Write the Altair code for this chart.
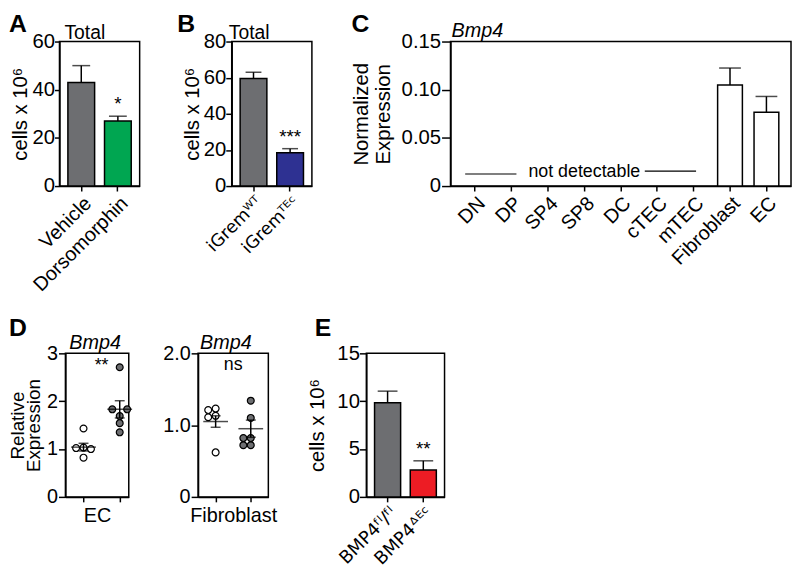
import altair as alt
import pandas as pd

FONT = "Liberation Sans, Arial, sans-serif"
SUPFONT = "DejaVu Sans"

# ---------------- data ----------------
a_groups = ["Vehicle", "Dorsomorphin"]
a_means = [43.0, 27.0]
a_sems = [7.0, 2.0]
a_colors = ["#6d6e71", "#00a651"]
a_sig = ["", "*"]

b_groups = ["iGremᵂᵀ", "iGremᵀᴱᶜ"]
b_means = [59.5, 18.5]
b_sems = [3.5, 2.2]
b_colors = ["#6d6e71", "#2e3192"]
b_sig = ["", "***"]

c_cells = ["DN", "DP", "SP4", "SP8", "DC", "cTEC", "mTEC", "Fibroblast", "EC"]
c_means = [None, None, None, None, None, None, None, 0.105, 0.0765]
c_sems = [None, None, None, None, None, None, None, 0.0175, 0.0165]

d_ec_ctrl = [1.43, 1.03, 1.02, 1.0, 0.82]
d_ec_ko = [2.71, 1.69, 1.83, 1.83, 1.54, 1.35]
d_ec_mean = [1.04, 1.83]
d_ec_sem = [0.08, 0.18]

d_fb_ctrl = [1.23, 1.21, 1.13, 1.11, 0.62]
d_fb_ko = [1.34, 1.10, 0.82, 0.82, 0.72, 0.72]
d_fb_mean = [1.05, 0.95]
d_fb_sem = [0.08, 0.12]

e_groups = ["BMP4ᶠˡ/ᶠˡ", "BMP4ᐞᴱᶜ"]
e_means = [9.85, 2.8]
e_sems = [1.2, 0.97]
e_colors = ["#6d6e71", "#ed1c24"]
e_sig = ["", "**"]


def label(text, dx, dy, size=25, weight="bold", style="normal", baseline="alphabetic"):
    return alt.Chart(pd.DataFrame({"t": [text]})).mark_text(
        align="left", baseline=baseline, font=FONT, fontSize=size,
        fontWeight=weight, fontStyle=style, color="black"
    ).encode(text="t:N", x=alt.value(dx), y=alt.value(dy))


def letter_mark(text, dx, dy):
    return label(text, dx, dy, size=25, weight="bold", baseline="top")


def bar_panel(groups, means, sems, colors, sig, ymax, yticks, width, height,
              cap, ytitle, tpad, tick, letter, letter_dx, letter_dy,
              title=None, title_dx=0, title_dy=-3, xfont=FONT, xsize=20):
    df = pd.DataFrame({"g": groups, "m": means, "s": sems, "c": colors, "sig": sig})
    df["top"] = df["m"] + df["s"]
    xenc = alt.X("g:N", sort=groups, scale=alt.Scale(paddingInner=0.27, paddingOuter=0.23),
                 axis=alt.Axis(title=None, labelAngle=-45, labelFontSize=xsize,
                               labelFont=xfont, tickSize=5))
    yscale = alt.Scale(domain=[0, ymax], nice=False)
    yaxis = alt.Axis(values=yticks, title=ytitle, titlePadding=tpad, tickSize=tick,
                     labelPadding=0, labelFontSize=20.5, titleFontSize=20.5)
    base = alt.Chart(df)
    bars = base.mark_bar(stroke="black", strokeWidth=1.5).encode(
        x=xenc, y=alt.Y("m:Q", scale=yscale, axis=yaxis),
        fill=alt.Color("c:N", scale=None))
    rule = base.mark_rule(color="black", strokeWidth=1.5).encode(
        x=xenc, y=alt.Y("m:Q", scale=yscale, axis=yaxis), y2="top:Q")
    capm = base.mark_tick(color="black", thickness=1.5, size=cap, orient="horizontal").encode(
        x=xenc, y=alt.Y("top:Q", scale=yscale, axis=yaxis))
    sigt = base.mark_text(baseline="bottom", dy=-2, font=FONT, fontSize=19, color="black").encode(
        x=xenc, y=alt.Y("top:Q", scale=yscale, axis=yaxis), text="sig:N")
    layers = [bars, rule, capm, sigt, letter_mark(letter, letter_dx, letter_dy)]
    if title:
        layers.append(label(title, title_dx, title_dy, size=19.5, weight="normal"))
    return alt.layer(*layers).properties(width=width, height=height)


def swarm(values, ppu_y, ppu_x, diam=7.5):
    placed, offs = [], []
    for v in values:
        xo = 0.0
        for k in [0, -1, 1, -2, 2, -3, 3]:
            xo = k * diam
            if all((xo - px) ** 2 + ((v - pv) * ppu_y) ** 2 >= (diam * 0.95) ** 2 for px, pv in placed):
                break
        placed.append((xo, v))
        offs.append(xo / ppu_x)
    return offs


def dot_panel(ctrl, ko, means, sems, xdom, ymax, yticks, width, height, xtitle,
              sig, sig_y, ytitle=None, letter=None, letter_dx=0, letter_dy=0,
              title_dx=2):
    ppu_y = height / ymax
    ppu_x = width / (xdom[1] - xdom[0])
    rows = []
    for gi, vals in enumerate([ctrl, ko]):
        for v, o in zip(vals, swarm(vals, ppu_y, ppu_x)):
            rows.append({"x": gi + o, "y": v, "k": "open" if gi == 0 else "filled"})
    pts = pd.DataFrame(rows)
    ms = pd.DataFrame({"x": [0, 1], "m": means, "s": sems})
    ms["lo"] = ms["m"] - ms["s"]
    ms["hi"] = ms["m"] + ms["s"]
    xscale = alt.Scale(domain=xdom, nice=False, zero=False)
    xaxis = alt.Axis(values=[0, 1], labels=False, title=xtitle, titlePadding=3,
                     tickSize=5, titleFontSize=20)
    yscale = alt.Scale(domain=[0, ymax], nice=False)
    yexpr = "datum.value == 0 ? '0' : " + ("format(datum.value, '.1f')" if ymax < 3 else "format(datum.value, 'd')")
    yaxis = alt.Axis(values=yticks, labelExpr=yexpr, labelFontSize=20, tickSize=7,
                     labelPadding=1, title=ytitle if ytitle else None,
                     titlePadding=3, titleFontSize=19, titleLineHeight=16)
    X = alt.X("x:Q", scale=xscale, axis=xaxis)
    points = alt.Chart(pts).mark_point(filled=True, shape="circle", size=48, stroke="black",
                                        strokeWidth=1.2, opacity=1).encode(
        x=X, y=alt.Y("y:Q", scale=yscale, axis=yaxis),
        fill=alt.Fill("k:N", scale=alt.Scale(domain=["open", "filled"], range=["white", "#6d6e71"]),
                      legend=None))
    mb = alt.Chart(ms)
    rule = mb.mark_rule(color="black", strokeWidth=1.5).encode(
        x=X, y=alt.Y("lo:Q", scale=yscale, axis=yaxis), y2="hi:Q")
    caphi = mb.mark_tick(color="black", thickness=1.5, size=10, orient="horizontal").encode(
        x=X, y=alt.Y("hi:Q", scale=yscale, axis=yaxis))
    caplo = mb.mark_tick(color="black", thickness=1.5, size=10, orient="horizontal").encode(
        x=X, y=alt.Y("lo:Q", scale=yscale, axis=yaxis))
    meanl = mb.mark_tick(color="black", thickness=1.5, size=25, orient="horizontal").encode(
        x=X, y=alt.Y("m:Q", scale=yscale, axis=yaxis))
    sigt = alt.Chart(pd.DataFrame({"t": [sig]})).mark_text(
        font=FONT, fontSize=18, color="black", baseline="alphabetic").encode(
        x=alt.datum(0.5), y=alt.datum(sig_y), text="t:N")
    layers = [points, rule, caphi, caplo, meanl, sigt,
              label("Bmp4", title_dx, -4, size=20, weight="normal", style="italic")]
    if letter:
        layers.append(letter_mark(letter, letter_dx, letter_dy))
    return alt.layer(*layers).properties(width=width, height=height)


def spacer(w, h):
    return alt.Chart(pd.DataFrame({"v": [0]})).mark_point(opacity=0).encode(
        x=alt.value(0), y=alt.value(0)).properties(
        width=w, height=h, view=alt.ViewBackground(stroke=None))


# ---------------- panels ----------------
H1 = 146
H2 = 145

panel_a = bar_panel(a_groups, a_means, a_sems, a_colors, a_sig, 60, [0, 20, 40, 60],
                    81, H1, 18, "cells x 10⁶", 1, 5, "A", -51, -30, "Total", 5, -3)
panel_b = bar_panel(b_groups, b_means, b_sems, b_colors, b_sig, 80, [0, 20, 40, 60, 80],
                    81, H1, 16, "cells x 10⁶", 1, 6, "B", -55, -30, "Total", -3, -3,
                    xfont=SUPFONT, xsize=17.5)

# panel C
c_df = pd.DataFrame({"g": c_cells, "m": c_means, "s": c_sems})
c_df["top"] = c_df["m"] + c_df["s"]
c_x = alt.X("g:N", sort=c_cells,
            scale=alt.Scale(domain=c_cells, paddingInner=0.32, paddingOuter=0.335),
            axis=alt.Axis(title=None, labelAngle=-45, labelFontSize=20, tickSize=5))
c_ys = alt.Scale(domain=[0, 0.15], nice=False)
c_ya = alt.Axis(values=[0, 0.05, 0.10, 0.15],
                labelExpr="datum.value == 0 ? '0' : format(datum.value, '.2f')",
                labelFontSize=20.5, tickSize=9, labelPadding=1,
                title=["Normalized", "Expression"], titleFontSize=20.5,
                titlePadding=8, titleLineHeight=22)
cb = alt.Chart(c_df)
c_bars = cb.mark_bar(fill="white", stroke="black", strokeWidth=1.5).encode(
    x=c_x, y=alt.Y("m:Q", scale=c_ys, axis=c_ya))
c_rule = cb.mark_rule(color="black", strokeWidth=1.5).encode(
    x=c_x, y=alt.Y("m:Q", scale=c_ys, axis=c_ya), y2="top:Q")
c_cap = cb.mark_tick(color="black", thickness=1.5, size=22, orient="horizontal").encode(
    x=c_x, y=alt.Y("top:Q", scale=c_ys, axis=c_ya))
nd = pd.DataFrame({"t": ["not detectable"]})
c_text = alt.Chart(nd).mark_text(font=FONT, fontSize=18, color="black", baseline="middle").encode(
    x=alt.X(datum="SP8", scale=alt.Scale(domain=c_cells)), y=alt.datum(0.0145), text="t:N")
c_line1 = alt.Chart(nd).mark_rule(color="black", strokeWidth=1.2).encode(
    x=alt.X(datum="DN", bandPosition=0.1), x2=alt.X2(datum="DP", bandPosition=0.7), y=alt.datum(0.0125))
c_line2 = alt.Chart(nd).mark_rule(color="black", strokeWidth=1.2).encode(
    x=alt.X(datum="cTEC", bandPosition=0.0), x2=alt.X2(datum="mTEC", bandPosition=0.6), y=alt.datum(0.0155))
panel_c = alt.layer(c_bars, c_rule, c_cap, c_text, c_line1, c_line2,
                    letter_mark("C", -100, -30),
                    label("Bmp4", 1, -5, size=20, weight="normal", style="italic")
                    ).properties(width=344, height=H1)

panel_d1 = dot_panel(d_ec_ctrl, d_ec_ko, d_ec_mean, d_ec_sem, [-0.5, 1.25], 3, [0, 1, 2, 3],
                     64, H2, "EC", "**", 2.64,
                     ["Relative", "Expression"], "D", -57, -38, 4)
panel_d2 = dot_panel(d_fb_ctrl, d_fb_ko, d_fb_mean, d_fb_sem, [-0.5, 1.5], 2,
                     [0, 0.5, 1.0, 1.5, 2.0], 71, H2, "Fibroblast", "ns", 1.765,
                     title_dx=2)

panel_e = bar_panel(e_groups, e_means, e_sems, e_colors, e_sig, 15, [0, 5, 10, 15],
                    79, H2, 20, "cells x 10⁶", 9, 7, "E", -52, -38,
                    xfont=SUPFONT, xsize=18)

row1 = alt.hconcat(panel_a, spacer(93, H1), panel_b, spacer(140, H1), panel_c,
                   spacing=0, bounds="flush")
row2 = alt.hconcat(spacer(6, H2), panel_d1, spacer(70, H2), panel_d2, spacer(99, H2), panel_e,
                   spacing=0, bounds="flush")

chart = alt.vconcat(row1, row2, spacing=19).properties(
    padding={"left": 0, "top": 0, "right": 0, "bottom": 0}
).configure_axis(
    domainColor="black", domainWidth=1.5, tickColor="black", tickWidth=1.5,
    labelColor="black", labelFont=FONT, titleFont=FONT,
    titleFontWeight="normal", titleColor="black", grid=False
).configure_view(stroke="black", strokeWidth=1.5)

chart.save("out.html", embed_options={"renderer": "svg", "actions": False})
